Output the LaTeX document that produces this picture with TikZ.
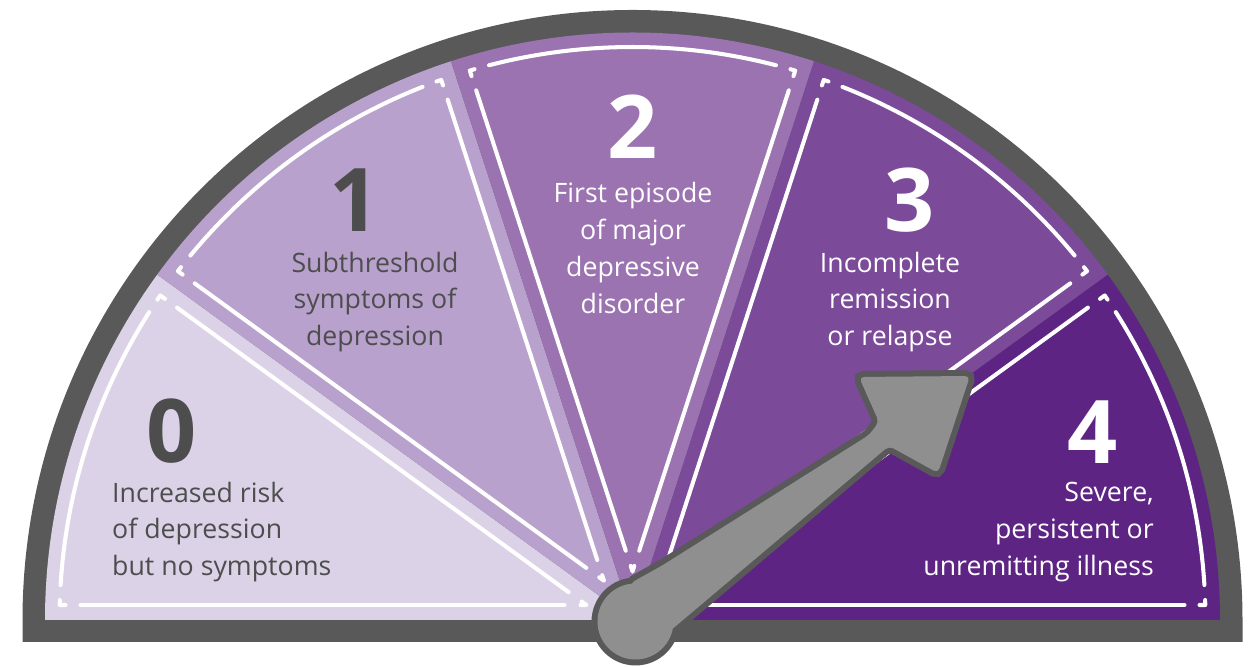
\documentclass[tikz,border=0pt]{standalone}
\usepackage{fontspec}
\setmainfont{Open Sans}
\usetikzlibrary{calc}
\definecolor{stage0}{HTML}{DCD2E8}
\definecolor{stage1}{HTML}{B9A1CD}
\definecolor{stage2}{HTML}{9A73B0}
\definecolor{stage3}{HTML}{7B4A99}
\definecolor{stage4}{HTML}{5D2483}
\definecolor{rim}{HTML}{595959}
\definecolor{needle}{HTML}{8F8F8F}
\definecolor{darktext}{HTML}{4D4D4D}
\tikzset{
  >=latex,
  rimline/.style={white,line width=2.3pt,line cap=round,line join=round},
  stagenum/.style={font=\fontsize{50}{50}\selectfont\bfseries},
  stagetext/.style={font=\fontsize{15.2}{21}\selectfont,align=center},
}
\def\needlepath{(H) -- (630,84.5) -- (663,103) -- (869,233) -- (879,246) -- (859,291) -- (970,292) -- (938,195) -- (889,222) -- (670,37) -- cycle}

\begin{document}
\begin{tikzpicture}[x=0.02cm,y=0.02cm]
  \useasboundingbox (0,0) rectangle (1252,668);
  \coordinate (C) at (632.5,48);
  \coordinate (H) at (635.5,46.5);
  % rim
  \fill[rim] ($(C)+(-610,-22)$) -- ++(0,22) arc[start angle=180,end angle=0,radius=610] -- ++(0,-22) -- cycle;
  % stages
  \foreach \i/\col in {0/stage0,1/stage1,2/stage2,3/stage3,4/stage4}{
    \pgfmathsetmacro\a{144-36*\i}
    \pgfmathsetmacro\b{180-36*\i}
    \fill[\col] (C) -- ($(C)+(\a:587.5)$) arc[start angle=\a,end angle=\b,radius=587.5] -- cycle;
  }
  % white inner frames
  \foreach \i in {0,...,4}{
    \pgfmathsetmacro\a{144-36*\i}
    \pgfmathsetmacro\b{180-36*\i}
    \draw[rimline] ($(C)+(\a:68)+(\a+90:15)$) -- ($(C)+(\a:552)+(\a+90:15)$);
    \draw[rimline] ($(C)+(\b:68)+(\b-90:15)$) -- ($(C)+(\b:552)+(\b-90:15)$);
    \draw[rimline] ($(C)+(\a+3.5:573)$) arc[start angle=\a+3.5,end angle=\b-3.5,radius=573];
    \draw[rimline] ($(C)+(\a:567)+(\a+90:15)$) -- ($(C)+(\a+1.5:573)$) -- ($(C)+(\a+2:573)$);
    \draw[rimline] ($(C)+(\b:567)+(\b-90:15)$) -- ($(C)+(\b-1.5:573)$) -- ($(C)+(\b-2:573)$);
    \draw[rimline] ($(C)+(\a:52)+(\a+90:15)$) -- ($(C)+(\a+18:48.5)$) -- ($(C)+(\b:52)+(\b-90:15)$);
  }
  % labels
  \node[stagenum,text=darktext] (n0) at (172,237) {0};
  \node[stagetext,text=darktext,align=left,anchor=west] (t0) at (106,136) {Increased risk\\of depression\\but no symptoms};
  \node[stagenum,text=darktext] (n1) at (355,468) {1};
  \node[stagetext,text=darktext] (t1) at (375,366) {Subthreshold\\symptoms of\\depression};
  \node[stagenum,text=white] (n2) at (633,541) {2};
  \node[stagetext,text=white] (t2) at (633,420) {First episode\\of major\\depressive\\disorder};
  \node[stagenum,text=white] (n3) at (910,468) {3};
  \node[stagetext,text=white] (t3) at (890,366) {Incomplete\\remission\\or relapse};
  \node[stagenum,text=white] (n4) at (1093,236) {4};
  \node[stagetext,text=white,align=right,anchor=east] (t4) at (1160,136) {Severe,\\persistent or\\unremitting illness};
  % needle
  \draw[rim,line width=6.8pt] (H) circle[radius=38];
  \draw[rim,line width=6.8pt,rounded corners=2.8pt] \needlepath;
  \fill[needle] (H) circle[radius=38];
  \fill[needle,rounded corners=2.8pt] \needlepath;
\end{tikzpicture}
\end{document}
